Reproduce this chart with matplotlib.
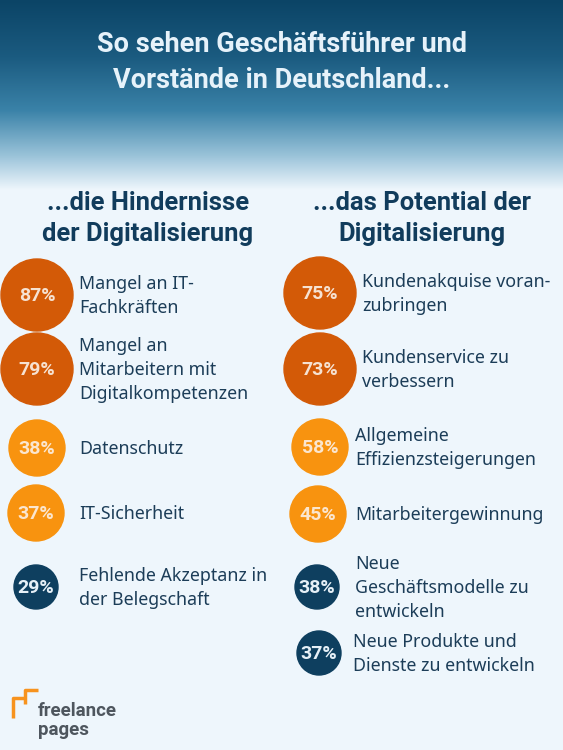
import numpy as np
import matplotlib
matplotlib.use("Agg")
from matplotlib import pyplot as plt
from matplotlib.colors import LinearSegmentedColormap
from matplotlib.patches import Circle

plt.rcParams["font.family"] = ["Noto Sans", "DejaVu Sans"]
BOLD = ["Roboto", "DejaVu Sans"]

# data
title_lines = ["So sehen Geschäftsführer und", "Vorstände in Deutschland..."]
left_head = ["...die Hindernisse", "der Digitalisierung"]
right_head = ["...das Potential der", "Digitalisierung"]

left_values = [87, 79, 38, 37, 29]
left_labels = ["Mangel an IT-\nFachkräften",
               "Mangel an\nMitarbeitern mit\nDigitalkompetenzen",
               "Datenschutz",
               "IT-Sicherheit",
               "Fehlende Akzeptanz in\nder Belegschaft"]
left_tier = [0, 0, 1, 1, 2]

right_values = [75, 73, 58, 45, 38, 37]
right_labels = ["Kundenakquise voran-\nzubringen",
                "Kundenservice zu\nverbessern",
                "Allgemeine\nEffizienzsteigerungen",
                "Mitarbeitergewinnung",
                "Neue\nGeschäftsmodelle zu\nentwickeln",
                "Neue Produkte und\nDienste zu entwickeln"]
right_tier = [0, 0, 1, 1, 2, 2]

# styling per tier
tier_color = ["#d35a07", "#f8930f", "#0e3f5f"]
tier_radius = [36, 28, 22]
tier_txt = ["#f6e2d2", "#fbe6cf", "#e6f0f7"]

bg = "#eef6fc"
navy = "#113c5c"

fig = plt.figure(figsize=(5.63, 7.5), dpi=100)
ax = fig.add_axes([0, 0, 1, 1])
ax.set_xlim(0, 563)
ax.set_ylim(750, 0)
ax.axis("off")
fig.patch.set_facecolor(bg)
ax.set_facecolor(bg)

# header gradient
cmap = LinearSegmentedColormap.from_list("hdr", [
    (0.0, "#0b4466"), (0.3, "#1b5b80"), (0.58, "#3a82a8"),
    (0.82, "#9ac3d9"), (1.0, bg)])
grad = np.linspace(0, 1, 256).reshape(-1, 1)
ax.imshow(grad, cmap=cmap, extent=[0, 563, 190, 0], aspect="auto", zorder=0)

for i, line in enumerate(title_lines):
    ax.text(282, 45 + 35 * i, line, ha="center", va="center", fontsize=19.5,
            fontweight="bold", family=BOLD, color="#e6f2fa")

for i in range(2):
    ax.text(148, 203 + 31 * i, left_head[i], ha="center", va="center",
            fontsize=18.4, fontweight="bold", family=BOLD, color=navy)
    ax.text(422, 203 + 31 * i, right_head[i], ha="center", va="center",
            fontsize=18.4, fontweight="bold", family=BOLD, color=navy)

left_y = [295, 369, 448, 513, 587]
right_y = [293, 369, 447, 514, 587, 653]
left_cx = [37, 37, 37, 36, 36]
right_cx = [320, 320, 320, 318, 317, 319]
left_tx = [79, 79, 79, 79, 79]
right_tx = [362, 362, 355, 355, 355, 353]


def draw_col(vals, labels, tiers, cxs, ys, txs):
    for v, lab, t, cx, y, tx in zip(vals, labels, tiers, cxs, ys, txs):
        ax.add_patch(Circle((cx, y), tier_radius[t], color=tier_color[t], zorder=2))
        ax.text(cx, y + 1, f"{v}%", ha="center", va="center", fontsize=14,
                fontweight="bold", family=BOLD, color=tier_txt[t], zorder=3)
        ax.text(tx, y + 1, lab, ha="left", va="center", fontsize=12.8,
                color="#1c3d58", linespacing=1.4, zorder=3)


draw_col(left_values, left_labels, left_tier, left_cx, left_y, left_tx)
draw_col(right_values, right_labels, right_tier, right_cx, right_y, right_tx)

# logo
orange = "#f7931e"
ax.plot([13, 13, 25], [718, 698, 698], color=orange, lw=2.5, solid_capstyle="butt")
ax.plot([25, 25, 38], [704, 690, 690], color=orange, lw=2.5, solid_capstyle="butt")
ax.text(38, 711, "freelance", ha="left", va="center", fontsize=13.5,
        fontweight="bold", family=BOLD, color="#4e565e")
ax.text(38, 730, "pages", ha="left", va="center", fontsize=13.5,
        fontweight="bold", family=BOLD, color="#4e565e")

fig.savefig("out.png", dpi=100, facecolor=bg)
